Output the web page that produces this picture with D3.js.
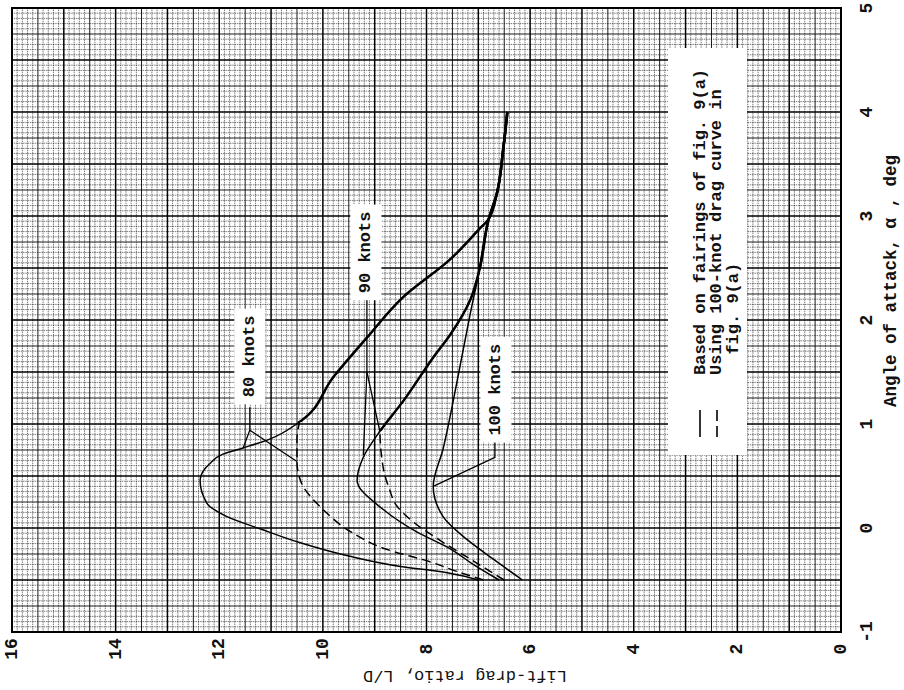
<!DOCTYPE html>
<html>
<head>
<meta charset="utf-8">
<script src="https://cdn.jsdelivr.net/npm/d3@7"></script>
<style>
  body { margin: 0; background: #fff; }
  svg text { font-family: "Liberation Mono", "DejaVu Sans Mono", monospace; font-weight: bold; fill: #111; }
</style>
</head>
<body>
<div id="chart"></div>
<script>
// 1: DATA - angle of attack (deg) vs lift-drag ratio
const alphaTicks = [-1, 0, 1, 2, 3, 4, 5];
const ldTicks = [0, 2, 4, 6, 8, 10, 12, 14, 16];

// part shared by all speeds at high angle
const alphaCommon = [2.5, 2.97, 3.22, 3.64, 4.0];
const ldCommon = [6.97, 6.8, 6.64, 6.52, 6.44];

// 80 knots, faired (solid)
const alpha80 = [-0.5, -0.43, -0.37, -0.27, -0.14, -0.01, 0.11, 0.24, 0.46, 0.62, 0.71, 0.77, 0.85, 1.02, 1.45, 1.83, 2.22, 2.58, 2.88];
const ld80 = [7.0, 7.6, 8.5, 9.5, 10.45, 11.2, 11.85, 12.24, 12.37, 12.18, 11.93, 11.54, 11.05, 10.45, 9.8, 9.15, 8.45, 7.55, 6.97];
// 80 knots, using 100-knot drag curve (dashed)
const alpha80d = [-0.5, -0.42, -0.33, -0.2, -0.04, 0.18, 0.44, 0.64, 0.85, 1.02];
const ld80d = [6.9, 7.4, 7.9, 8.8, 9.45, 10.0, 10.42, 10.5, 10.5, 10.45];

// 90 knots
const alpha90 = [-0.5, -0.35, -0.2, -0.04, 0.18, 0.46, 0.68, 0.93, 1.22, 1.64, 1.86, 2.2];
const ld90 = [6.6, 7.1, 7.54, 8.18, 8.84, 9.34, 9.22, 8.9, 8.45, 7.87, 7.54, 7.15];
const alpha90d = [-0.5, -0.3, -0.1, 0.06, 0.21, 0.38, 0.5, 0.7, 0.93];
const ld90d = [6.5, 7.15, 7.8, 8.26, 8.57, 8.72, 8.8, 8.87, 8.9];

// 100 knots
const alpha100 = [-0.5, -0.3, -0.11, 0.11, 0.4, 0.76, 1.41, 2.05];
const ld100 = [6.15, 6.71, 7.22, 7.68, 7.87, 7.68, 7.41, 7.16];

// speed labels: text, centre (alpha, L/D), leader lines
const labelNames = ["80 knots", "90 knots", "100 knots"];
const labelAlpha = [1.65, 2.65, 1.33];
const labelLD = [11.41, 9.17, 6.66];
const leaders = [
    [[[1.16, 11.41], [0.94, 11.41], [0.77, 11.54]], [[0.94, 11.41], [0.64, 10.5]]],
    [[[2.24, 9.15], [1.5, 9.15], [0.7, 9.22]], [[1.5, 9.15], [0.93, 8.9]]],
    [[[0.84, 6.68], [0.68, 6.68], [0.4, 7.87]]]
];

const legendLines = ["Based on fairings of fig. 9(a)", "Using 100-knot drag curve in", "  fig. 9(a)"];

// 2: LAYOUT - chart is drawn upright then turned a quarter turn (as in the scan)
const W = 904, H = 690;

const svg = d3.select("#chart").append("svg")
    .attr("width", W)
    .attr("height", H);

// group coords (u, v) -> screen (v, H - u)
const g = svg.append("g")
    .attr("transform", `translate(0,${H}) rotate(-90)`);

const xScale = d3.scaleLinear().domain([-1, 5]).range([58, 682]);   // angle of attack
const yScale = d3.scaleLinear().domain([0, 16]).range([841, 12]);   // L/D

// 3: GRAPH PAPER
const grid = g.append("g");
function gridStyle(sel, i) {
    if (i % 10 === 0) sel.attr("stroke", "#000").attr("stroke-width", 1.5);
    else if (i % 5 === 0) sel.attr("stroke", "#000").attr("stroke-width", 1).attr("stroke-opacity", 0.9);
    else sel.attr("stroke", "#000").attr("stroke-width", 0.7).attr("stroke-opacity", 0.75).attr("stroke-dasharray", "1.5,0.8");
}
d3.range(0, 121).forEach(i => {
    const a = -1 + i * 0.05;
    grid.append("line")
        .attr("x1", xScale(a)).attr("x2", xScale(a))
        .attr("y1", yScale(0)).attr("y2", yScale(16))
        .call(gridStyle, i);
});
d3.range(0, 161).forEach(i => {
    const r = i * 0.1;
    grid.append("line")
        .attr("x1", xScale(-1)).attr("x2", xScale(5))
        .attr("y1", yScale(r)).attr("y2", yScale(r))
        .call(gridStyle, i);
});
g.append("rect")
    .attr("x", xScale(-1)).attr("y", yScale(16))
    .attr("width", xScale(5) - xScale(-1))
    .attr("height", yScale(0) - yScale(16))
    .attr("fill", "none").attr("stroke", "#000").attr("stroke-width", 2);

// 4: AXIS LABELS
g.append("g").selectAll("text")
    .data(alphaTicks)
    .enter().append("text")
    .attr("x", d => xScale(d))
    .attr("y", 867)
    .attr("text-anchor", "middle")
    .attr("dominant-baseline", "central")
    .style("font-size", "18px")
    .text(d => d);

g.append("g").selectAll("text")
    .data(ldTicks)
    .enter().append("text")
    .attr("x", 41)
    .attr("y", d => yScale(d))
    .attr("text-anchor", "middle")
    .attr("dominant-baseline", "central")
    .style("font-size", "18px")
    .text(d => d);

g.append("text")
    .attr("x", 409).attr("y", 891)
    .attr("text-anchor", "middle")
    .attr("dominant-baseline", "central")
    .style("font-size", "17.5px")
    .text("Angle of attack, \u03b1 , deg");

g.append("text")
    .attr("transform", "translate(15,465) rotate(-90)")
    .attr("text-anchor", "middle")
    .attr("dominant-baseline", "central")
    .style("font-size", "17px")
    .style("font-weight", "normal")
    .text("Lift-drag ratio, L/D");

// 5: LEGEND BOX
const leg = g.append("g");
leg.append("rect")
    .attr("x", 235).attr("y", 668)
    .attr("width", 407).attr("height", 79)
    .attr("fill", "#fff");
[700, 717].forEach((v, i) => {
    leg.append("line")
        .attr("x1", 253).attr("x2", 280)
        .attr("y1", v).attr("y2", v)
        .attr("stroke", "#000").attr("stroke-width", 1.6)
        .attr("stroke-dasharray", i === 1 ? "11,5" : null);
});
leg.selectAll(".legend-text")
    .data(legendLines)
    .enter().append("text")
    .attr("class", "legend-text")
    .attr("x", 315)
    .attr("y", (d, i) => 700 + i * 16.5)
    .attr("dominant-baseline", "central")
    .attr("xml:space", "preserve")
    .style("white-space", "pre")
    .style("font-size", "17px")
    .text(d => d);

// 6: CURVES
const line = d3.line()
    .x(d => xScale(d[0]))
    .y(d => yScale(d[1]))
    .curve(d3.curveMonotoneX);

const zip = (a, b) => a.map((v, i) => [v, b[i]]);
const common = zip(alphaCommon, ldCommon);
const curves = [
    { pts: zip(alpha80, ld80).concat(common.slice(1)), dash: null, joinAt: d3.max(alpha80d) },
    { pts: zip(alpha80d, ld80d), dash: "9,5" },
    { pts: zip(alpha90, ld90).concat(common), dash: null, joinAt: d3.max(alpha90d) },
    { pts: zip(alpha90d, ld90d), dash: "9,5" },
    { pts: zip(alpha100, ld100).concat(common), dash: null, joinAt: d3.min(alphaCommon) }
];

g.append("g").selectAll("path")
    .data(curves)
    .enter().append("path")
    .attr("d", d => line(d.pts))
    .attr("fill", "none")
    .attr("stroke", "#000")
    .attr("stroke-width", 1.5)
    .attr("stroke-dasharray", d => d.dash);

// where faired and dashed curves coincide the scan shows a heavier stroke:
// same path, clipped to the angles beyond the join
const heavy = curves.filter(c => c.joinAt !== undefined);
const defs = svg.append("defs");
heavy.forEach((c, i) => {
    defs.append("clipPath")
        .attr("id", "join" + i)
        .append("rect")
        .attr("x", xScale(c.joinAt)).attr("y", 0)
        .attr("width", xScale(5) - xScale(c.joinAt)).attr("height", W);
    g.append("path")
        .attr("d", line(c.pts))
        .attr("clip-path", `url(#join${i})`)
        .attr("fill", "none")
        .attr("stroke", "#000")
        .attr("stroke-width", 2.5);
});

// 7: SPEED LABELS WITH LEADERS
const leaderLine = d3.line()
    .x(d => xScale(d[0]))
    .y(d => yScale(d[1]));

leaders.forEach(set => set.forEach(p => {
    g.append("path")
        .attr("d", leaderLine(p))
        .attr("fill", "none")
        .attr("stroke", "#000")
        .attr("stroke-width", 1.3);
}));

labelNames.forEach((name, i) => {
    const lg = g.append("g");
    const box = lg.append("rect").attr("fill", "#fff");
    const t = lg.append("text")
        .attr("x", xScale(labelAlpha[i]))
        .attr("y", yScale(labelLD[i]))
        .attr("text-anchor", "middle")
        .attr("dominant-baseline", "central")
        .style("font-size", "17px")
        .text(name);
    const bb = t.node().getBBox();
    box.attr("x", bb.x - 7).attr("y", bb.y - 6)
        .attr("width", bb.width + 14).attr("height", bb.height + 12);
});
</script>
</body>
</html>
